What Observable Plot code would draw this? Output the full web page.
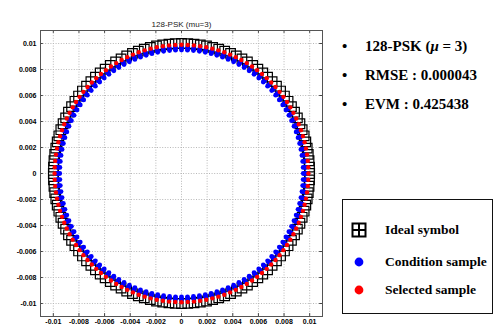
<!DOCTYPE html>
<html>
<head>
<meta charset="utf-8">
<script src="https://cdn.jsdelivr.net/npm/d3@7"></script>
<script src="https://cdn.jsdelivr.net/npm/@observablehq/plot@0.6"></script>
<style>
  html, body { margin: 0; padding: 0; background: #fff; }
  #page { position: relative; width: 502px; height: 325px; overflow: hidden; }
  #chart { position: absolute; left: 0; top: 0; }
  .serif { font-family: "Liberation Serif", "Times New Roman", serif; font-weight: bold; color: #000; }
  .stat { position: absolute; left: 342px; font-size: 15px; white-space: nowrap; line-height: 1; }
  .stat .b { display: inline-block; width: 23px; }
  #legend { position: absolute; left: 342px; top: 199px; width: 151px; height: 115px;
            border: 1.5px solid #111; box-sizing: border-box; }
  .item { position: absolute; left: 0; font-size: 13.5px; white-space: nowrap; line-height: 1; }
  .item svg { position: absolute; left: 8px; top: -8px; }
  .item span { position: absolute; left: 42px; top: -7px; }
</style>
</head>
<body>
<div id="page">
  <div id="chart"></div>
  <div class="serif stat" style="top:39px"><span class="b">•</span>128-PSK (<i>μ</i> = 3)</div>
  <div class="serif stat" style="top:68px"><span class="b">•</span>RMSE : 0.000043</div>
  <div class="serif stat" style="top:97px"><span class="b">•</span>EVM : 0.425438</div>
  <div id="legend" class="serif"></div>
</div>
<script>
// 128-PSK constellation: symbol count and ideal amplitude
const order = 128;
const amplitude = 0.01;
// radii at which the received samples of each symbol sit
const conditionRadii = [0.0095, 0.0096, 0.0097];
const selectedRadius = 0.0099;
// axis ticks and limits
const ticks = [-0.01, -0.008, -0.006, -0.004, -0.002, 0, 0.002, 0.004, 0.006, 0.008, 0.01];
const limit = 0.011;
const title = "128-PSK (mu=3)";

const phases = d3.range(order).map(k => 2 * Math.PI * k / order);
const ideal = phases.map(a => ({x: amplitude * Math.cos(a), y: amplitude * Math.sin(a)}));
const condition = phases.flatMap(a => conditionRadii.map(r => ({x: r * Math.cos(a), y: r * Math.sin(a)})));
const selected = phases.map(a => ({x: selectedRadius * Math.cos(a), y: selectedRadius * Math.sin(a)}));

const fmt = d => d === 0 ? "0" : String(+d.toFixed(3));
const tickLen = 0.00022;

const chart = Plot.plot({
  width: 330,
  height: 325,
  marginLeft: 40,
  marginRight: 8,
  marginTop: 30,
  marginBottom: 9,
  style: {fontFamily: "'Liberation Sans', Arial, sans-serif", fontSize: "7px", color: "#000", background: "#fff"},
  x: {domain: [-limit, limit], label: null},
  y: {domain: [-limit, limit], label: null},
  marks: [
    Plot.gridX(ticks, {stroke: "#b8b8b8", strokeOpacity: 1, strokeDasharray: "1,1.6"}),
    Plot.gridY(ticks, {stroke: "#b8b8b8", strokeOpacity: 1, strokeDasharray: "1,1.6"}),
    Plot.axisX(ticks, {tickSize: 0, tickPadding: 3, tickFormat: fmt, fontWeight: "bold", fill: "#000", label: null}),
    Plot.axisY(ticks, {tickSize: 0, tickPadding: 4, tickFormat: fmt, fontWeight: "bold", fill: "#000", label: null}),
    // inward tick marks on all four sides of the box
    Plot.ruleX(ticks, {x: d => d, y1: limit, y2: limit - tickLen, stroke: "#444"}),
    Plot.ruleX(ticks, {x: d => d, y1: -limit, y2: -limit + tickLen, stroke: "#444"}),
    Plot.ruleY(ticks, {y: d => d, x1: -limit, x2: -limit + tickLen, stroke: "#444"}),
    Plot.ruleY(ticks, {y: d => d, x1: limit, x2: limit - tickLen, stroke: "#444"}),
    Plot.frame({stroke: "#555", strokeWidth: 1}),
    Plot.dot(ideal, {x: "x", y: "y", symbol: "square", r: 5.4, stroke: "#000", strokeWidth: 1.2, fill: "none"}),
    Plot.dot(condition, {x: "x", y: "y", r: 2.4, fill: "#0000ff", stroke: "none"}),
    Plot.dot(selected, {x: "x", y: "y", r: 2.2, fill: "#ff0000", stroke: "none"}),
    Plot.text([title], {frameAnchor: "top", dy: -9, fontSize: 8, fill: "#222"})
  ]
});
document.getElementById("chart").appendChild(chart);

// legend entries
const legendItems = [
  {label: "Ideal symbol", kind: "square", color: "#000"},
  {label: "Condition sample", kind: "dot", color: "#0000ff"},
  {label: "Selected sample", kind: "dot", color: "#ff0000"}
];
const legendRows = [30, 62, 90];
const legend = document.getElementById("legend");
legendItems.forEach((item, i) => {
  const row = document.createElement("div");
  row.className = "item";
  row.style.top = legendRows[i] + "px";
  const icon = item.kind === "square"
    ? `<svg width="16" height="16" viewBox="0 0 16 16"><rect x="1.5" y="1.5" width="13" height="13" fill="none" stroke="${item.color}" stroke-width="2"/><line x1="8" y1="1.5" x2="8" y2="14.5" stroke="${item.color}" stroke-width="2"/><line x1="1.5" y1="8" x2="14.5" y2="8" stroke="${item.color}" stroke-width="2"/></svg>`
    : `<svg width="16" height="16" viewBox="0 0 16 16"><circle cx="8" cy="8" r="4.4" fill="${item.color}"/></svg>`;
  row.innerHTML = icon + `<span>${item.label}</span>`;
  legend.appendChild(row);
});
</script>
</body>
</html>
